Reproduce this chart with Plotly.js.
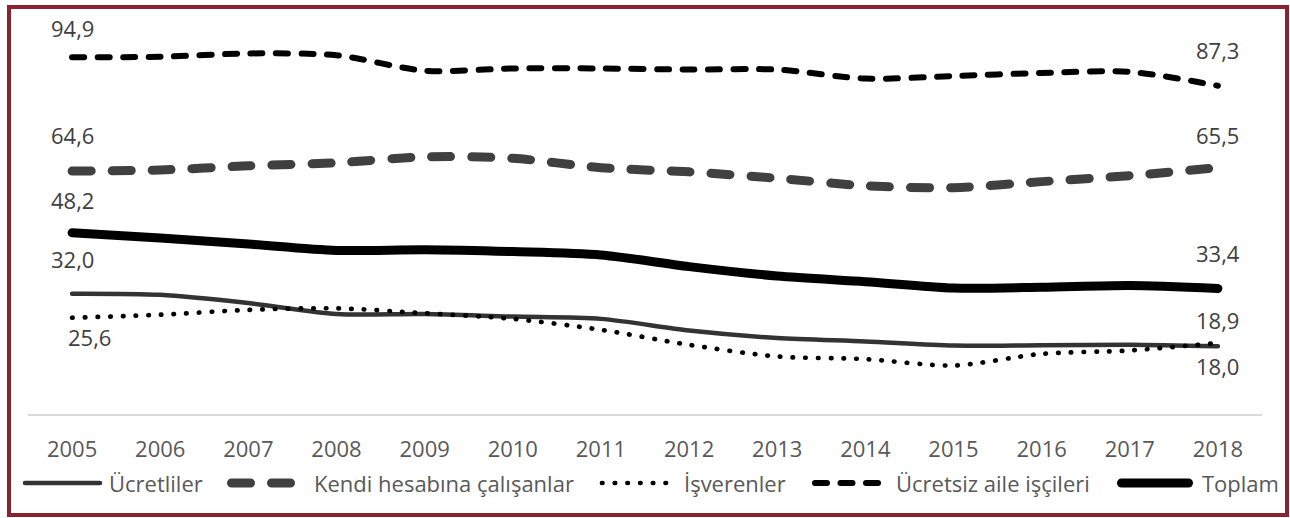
<!DOCTYPE html>
<html>
<head>
<meta charset="utf-8">
<script src="https://cdn.plot.ly/plotly-3.0.1.min.js"></script>
<style>
  html, body { margin: 0; padding: 0; background: #fff; }
  #wrap { position: relative; width: 1290px; height: 518px; }
  #chart { position: absolute; left: 0; top: 0; width: 1290px; height: 518px; }
  #frame { position: absolute; left: 7px; top: 5px; width: 1274px; height: 504px;
           border: 4px solid #8a2232; pointer-events: none; background: transparent; }
  .js-line, .shapelayer path { stroke-linecap: round; stroke-linejoin: round; }
</style>
</head>
<body>
<div id="wrap">
  <div id="chart"></div>
  <div id="frame"></div>
</div>
<script>
// ---- data ----
const years = ['2005','2006','2007','2008','2009','2010','2011','2012','2013','2014','2015','2016','2017','2018'];
const ucretliler = [32.0, 31.7, 29.5, 26.6, 26.6, 25.9, 25.3, 22.2, 20.2, 19.3, 18.2, 18.3, 18.4, 18.0];
const kendiHesabina = [64.6, 64.9, 66.0, 66.8, 68.4, 68.0, 65.5, 64.4, 62.7, 60.7, 60.2, 61.8, 63.4, 65.5];
const isverenler = [25.6, 26.4, 27.7, 28.1, 26.8, 25.3, 22.4, 18.4, 15.3, 14.6, 12.9, 16.0, 16.9, 18.9];
const ucretsizAile = [94.9, 95.0, 95.9, 95.4, 91.3, 91.9, 91.9, 91.6, 91.6, 89.2, 89.9, 90.7, 91.0, 87.3];
const toplam = [48.2, 46.8, 45.2, 43.5, 43.7, 43.2, 42.3, 39.2, 36.7, 35.2, 33.5, 33.7, 34.2, 33.4];
const seriesNames = ['Ücretliler', 'Kendi hesabına çalışanlar', 'İşverenler', 'Ücretsiz aile işçileri', 'Toplam'];

// ---- styles ----
const FONT = 'Open Sans, sans-serif';
const FS = 22;
const styles = [
  {data: ucretliler,    color: '#333333', width: 4.5, dash: 'solid',        shifts: [35, -20], xs: [0, 0], leg: [25, 100, 108]},
  {data: kendiHesabina, color: '#404040', width: 9,   dash: '19px,21px',    shifts: [36, 33],  xs: [0, 0], leg: [231.5, 290.5, 313]},
  {data: isverenler,    color: '#000000', width: 4.7, dash: '0.5px,12.2px', shifts: [-19, 23], xs: [17, 0], leg: [602, 666, 683]},
  {data: ucretsizAile,  color: '#000000', width: 6,   dash: '12px,13.5px',  shifts: [29, 36],  xs: [0, 0], leg: [815, 878, 895]},
  {data: toplam,        color: '#000000', width: 9,   dash: 'solid',        shifts: [33, 35],  xs: [0, 0], leg: [1121.5, 1188.5, 1201]}
];

const M = {l: 28, r: 28, t: 38, b: 104};
const W = 1290, H = 518;
const plotW = W - M.l - M.r, plotH = H - M.t - M.b;
const px2paperX = px => (px - M.l) / plotW;
const py2paperY = py => (H - M.b - py) / plotH;
const LEG_Y = py2paperY(483);

const fmt = v => v.toFixed(1).replace('.', ',');

const traces = styles.map((s, i) => ({
  type: 'scatter', mode: 'lines', name: seriesNames[i],
  x: years, y: s.data, showlegend: false,
  line: {color: s.color, width: s.width, dash: s.dash, shape: 'spline', smoothing: 0.8},
  hoverinfo: 'skip'
}));

const annotations = [];
const shapes = [];
styles.forEach((s, i) => {
  [0, s.data.length - 1].forEach((idx, k) => {
    annotations.push({
      x: idx, y: s.data[idx], xref: 'x', yref: 'y',
      text: fmt(s.data[idx]), showarrow: false,
      xanchor: 'center', yanchor: 'middle',
      yshift: s.shifts[k], xshift: s.xs[k],
      font: {family: FONT, size: FS, color: '#404040'}
    });
  });
  // custom legend
  shapes.push({
    type: 'line', xref: 'paper', yref: 'paper',
    x0: px2paperX(s.leg[0]), x1: px2paperX(s.leg[1]), y0: LEG_Y, y1: LEG_Y,
    line: {color: s.color, width: s.width, dash: s.dash}
  });
  annotations.push({
    xref: 'paper', yref: 'paper', x: px2paperX(s.leg[2]), y: LEG_Y,
    xanchor: 'left', yanchor: 'middle', showarrow: false,
    text: seriesNames[i], borderpad: 0,
    font: {family: FONT, size: FS, color: '#595959'}
  });
});

const layout = {
  width: W, height: H,
  margin: M,
  paper_bgcolor: '#ffffff', plot_bgcolor: '#ffffff',
  font: {family: FONT, size: FS, color: '#595959'},
  showlegend: false,
  xaxis: {
    type: 'category', range: [-0.5, 13.5], fixedrange: true,
    showgrid: false, zeroline: false,
    showline: true, linecolor: '#d9d9d9', linewidth: 1.5,
    ticks: '', ticklabelstandoff: 15,
    tickfont: {family: FONT, size: FS, color: '#595959'}
  },
  yaxis: {
    range: [0, 100], visible: false, fixedrange: true,
    showgrid: false, zeroline: false
  },
  shapes: shapes,
  annotations: annotations
};

Plotly.newPlot('chart', traces, layout, {displayModeBar: false, staticPlot: true});
</script>
</body>
</html>
